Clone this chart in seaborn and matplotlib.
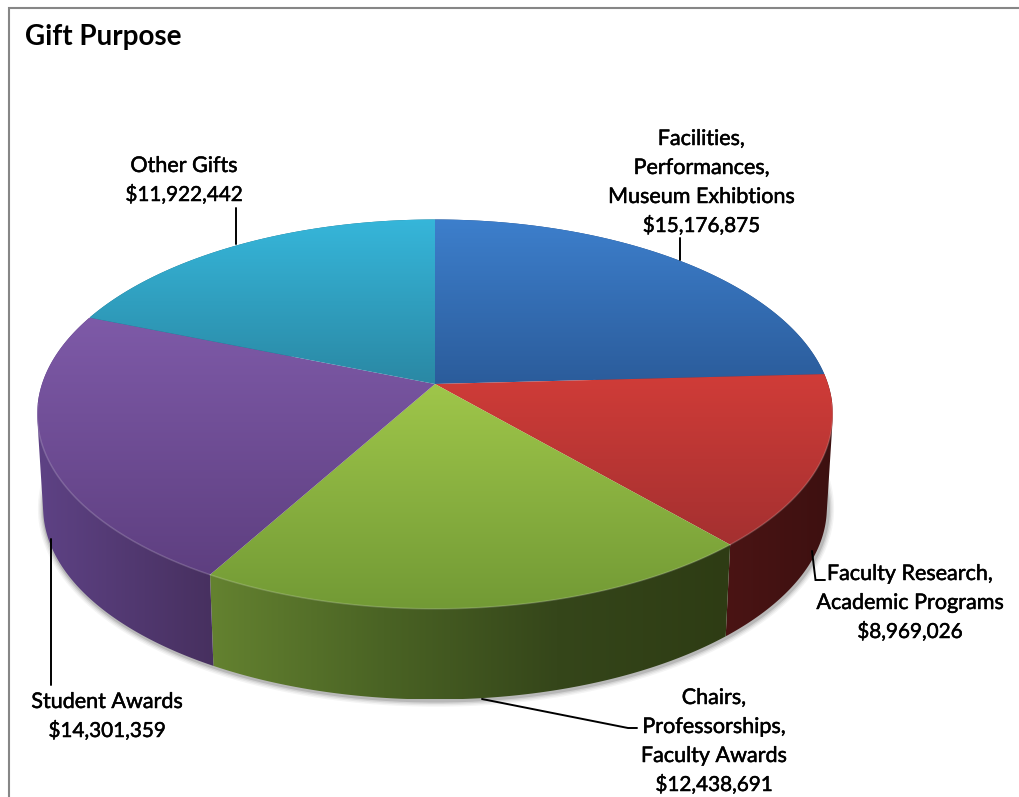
import numpy as np
import pandas as pd
import matplotlib
matplotlib.use("Agg")
import matplotlib.pyplot as plt
import matplotlib.patheffects as pe
from matplotlib.colors import LinearSegmentedColormap
from matplotlib.patches import Polygon
import seaborn as sns

# Gift totals by purpose, clockwise from twelve o'clock
purposes = ["Facilities,\nPerformances,\nMuseum Exhibtions",
            "Faculty Research,\nAcademic Programs",
            "Chairs,\nProfessorships,\nFaculty Awards",
            "Student Awards",
            "Other Gifts"]
amounts = [15176875, 8969026, 12438691, 14301359, 11922442]

gifts = pd.DataFrame({"purpose": purposes, "amount": amounts})
gifts["share"] = gifts["amount"] / gifts["amount"].sum()
gifts["end"] = gifts["share"].cumsum() * 2 * np.pi
gifts["start"] = gifts["end"] - gifts["share"] * 2 * np.pi

# Shading for every slice: top face (far -> near), side wall (left -> right)
top_shades = [("#3d7fcc", "#2b5c9b"), ("#d03c38", "#a43030"), ("#9fc64a", "#729a35"),
              ("#7e5aa8", "#5e3f80"), ("#36b6da", "#2a88a4")]
wall_shades = [("#224a80", "#224a80"), ("#4a1414", "#3d1010"),
               ("#648230", "#4a6324", "#35461a", "#2e3c14"),
               ("#5e4285", "#47305f"), ("#1f6d85", "#1f6d85")]

sns.set_theme(style="white")
plt.rcParams["font.family"] = ["Lato", "DejaVu Sans"]

# Pie geometry in figure pixels, with a simple perspective for the disc
CX, CY = 435.0, 384.0
RADIUS, TILT, DEPTH_K = 393.0, 190.0, 0.155
WALL_SCALE, WALL_DROP = 0.985, 94.0


def rim(theta):
    u, v = np.sin(theta), np.cos(theta)
    w = 1 + DEPTH_K * v
    return RADIUS * u / w, -TILT * v / w


def top_xy(theta):
    x, y = rim(theta)
    return CX + x, CY + y


def low_xy(theta):
    x, y = rim(theta)
    return CX + WALL_SCALE * x, CY + WALL_SCALE * y + WALL_DROP


def convex_hull(pts):
    ordered = sorted(map(tuple, pts))

    def half(seq):
        chain = []
        for p in seq:
            while len(chain) > 1 and ((chain[-1][0] - chain[-2][0]) * (p[1] - chain[-2][1])
                                      - (chain[-1][1] - chain[-2][1]) * (p[0] - chain[-2][0])) <= 0:
                chain.pop()
            chain.append(p)
        return chain[:-1]

    return np.array(half(ordered) + half(ordered[::-1]))


def shaded_polygon(ax, pts, colors, horizontal, zorder):
    poly = Polygon(pts, closed=True, facecolor="none", edgecolor="none", transform=ax.transData)
    ax.add_patch(poly)
    cmap = LinearSegmentedColormap.from_list("shade", colors)
    ramp = np.linspace(0, 1, 256)
    ramp = ramp[None, :] if horizontal else ramp[:, None]
    x0, y0 = pts.min(axis=0)
    x1, y1 = pts.max(axis=0)
    img = ax.imshow(ramp, cmap=cmap, extent=(x0, x1, y1, y0), origin="upper",
                    aspect="auto", zorder=zorder, interpolation="bilinear")
    img.set_clip_path(poly)


fig = plt.figure(figsize=(10.2, 7.97), dpi=100, facecolor="white")
ax = fig.add_axes([0, 0, 1, 1])

# Soft shadow below the lower rim
rim_angles = np.linspace(np.pi * 0.5, np.pi * 1.5, 300)
lx, ly = low_xy(rim_angles)
for lw, a in zip([9, 7, 5, 3], [0.05, 0.07, 0.10, 0.16]):
    ax.plot(lx + 1, ly + 1, color="#303030", lw=lw, alpha=a, zorder=1, solid_capstyle="round")

# Side walls swept between the two rims, then top faces
for row, top_c, wall_c in zip(gifts.itertuples(), top_shades, wall_shades):
    arc = np.linspace(row.start, row.end, 200)
    tx, ty = top_xy(arc)
    bx, by = low_xy(arc)
    wall = convex_hull(np.column_stack([np.r_[tx, bx], np.r_[ty, by]]))
    shaded_polygon(ax, wall, wall_c, True, 2)

for row, top_c, wall_c in zip(gifts.itertuples(), top_shades, wall_shades):
    arc = np.linspace(row.start, row.end, 200)
    tx, ty = top_xy(arc)
    face = np.column_stack([np.r_[CX, tx], np.r_[CY, ty]])
    shaded_polygon(ax, face, top_c, False, 3)
    # Bevel highlight along the near edge of the disc
    near = np.cos(arc) < -0.1
    ax.plot(tx[near], ty[near], color="white", alpha=0.18, lw=1.1, zorder=4)

# Leader lines
leaders = [([680, 680], [238, 260]),
           ([812, 815.5, 825], [551, 580, 580]),
           ([482, 628, 637], [699, 728, 728]),
           ([51, 51], [539, 685]),
           ([236, 236], [208, 244])]
for xs, ys in leaders:
    ax.plot(xs, ys, color="black", lw=1.4, zorder=5, solid_joinstyle="miter")

# Slice labels, set line by line on a fixed baseline grid
label_x = [701.5, 910, 714, 107, 184]
label_first_baseline = [145, 580, 704, 708, 172]
LINE_STEP = 29
for row, x, y0 in zip(gifts.itertuples(), label_x, label_first_baseline):
    lines = row.purpose.split("\n") + [f"${row.amount:,}"]
    for i, line in enumerate(lines):
        size = 14.9 if line.startswith("$") else 15.5
        ax.text(x, y0 + i * LINE_STEP, line, ha="center", va="baseline", fontsize=size,
                color="black", zorder=6,
                path_effects=[pe.withStroke(linewidth=0.35, foreground="black")])

ax.text(25, 45, "Gift Purpose", ha="left", va="baseline", fontsize=20, color="black",
        fontweight="bold", zorder=6)

# Chart frame, drawn along the top and left only
ax.plot([9, 9, 1020], [797, 8, 8], color="#868686", lw=1.5, zorder=7, solid_joinstyle="miter")

ax.set_xlim(0, 1020)
ax.set_ylim(797, 0)
ax.axis("off")
fig.savefig("out.png", dpi=100, facecolor="white")
